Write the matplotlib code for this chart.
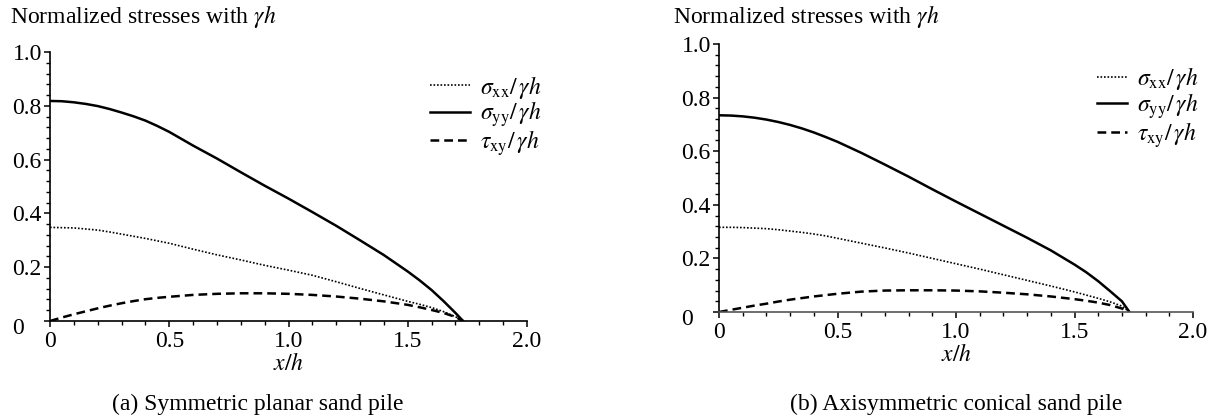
import matplotlib
matplotlib.use("Agg")
import matplotlib.pyplot as plt
from matplotlib.ticker import MultipleLocator, FuncFormatter

plt.rcParams['font.family'] = ['Liberation Serif', 'DejaVu Serif']
plt.rcParams['mathtext.fontset'] = 'stix'

x_h = [0.0, 0.05, 0.1, 0.15, 0.2, 0.25, 0.3, 0.35, 0.4, 0.45, 0.5, 0.6, 0.7,
       0.8, 0.9, 1.0, 1.1, 1.2, 1.3, 1.4, 1.5, 1.55, 1.6, 1.65, 1.7, 1.732]

# (a) symmetric planar sand pile
sxx_a = [0.348, 0.347, 0.346, 0.342, 0.338, 0.331, 0.323, 0.315, 0.307, 0.298,
         0.289, 0.267, 0.246, 0.227, 0.207, 0.189, 0.170, 0.146, 0.121, 0.097,
         0.073, 0.062, 0.050, 0.035, 0.016, 0.0]
syy_a = [0.818, 0.817, 0.813, 0.807, 0.799, 0.788, 0.775, 0.761, 0.745, 0.725,
         0.703, 0.652, 0.604, 0.553, 0.503, 0.455, 0.405, 0.354, 0.300, 0.245,
         0.184, 0.151, 0.115, 0.074, 0.030, 0.0]
txy_a = [0.0, 0.013, 0.025, 0.036, 0.047, 0.057, 0.066, 0.074, 0.081, 0.086,
         0.090, 0.097, 0.101, 0.103, 0.103, 0.101, 0.097, 0.091, 0.083, 0.073,
         0.060, 0.051, 0.041, 0.030, 0.015, 0.0]

# (b) axisymmetric conical sand pile
sxx_b = [0.316, 0.316, 0.315, 0.313, 0.311, 0.307, 0.302, 0.297, 0.291, 0.284,
         0.275, 0.257, 0.239, 0.220, 0.200, 0.180, 0.160, 0.139, 0.118, 0.097,
         0.075, 0.063, 0.051, 0.038, 0.022, 0.0]
syy_b = [0.734, 0.733, 0.730, 0.725, 0.718, 0.709, 0.698, 0.685, 0.670, 0.653,
         0.635, 0.594, 0.550, 0.505, 0.458, 0.412, 0.367, 0.322, 0.277, 0.230,
         0.177, 0.148, 0.115, 0.078, 0.040, 0.0]
txy_b = [0.0, 0.008, 0.016, 0.024, 0.031, 0.039, 0.046, 0.052, 0.058, 0.063,
         0.068, 0.076, 0.080, 0.081, 0.081, 0.080, 0.077, 0.072, 0.066, 0.058,
         0.048, 0.042, 0.035, 0.026, 0.013, 0.0]

labels = [r'$\sigma_{\rm xx}/\,\gamma h$', r'$\sigma_{\rm yy}/\,\gamma h$',
          r'$\tau_{\rm xy}/\,\gamma h$']
captions = ['(a) Symmetric planar sand pile', '(b) Axisymmetric conical sand pile']

fig = plt.figure(figsize=(12.24, 4.19), dpi=100)
W, H = 1224, 419

def px(x0, x1, ytop, ybot):
    return [x0 / W, 1 - ybot / H, (x1 - x0) / W, (ybot - ytop) / H]

ax_a = fig.add_axes(px(50, 527, 52, 321))
ax_b = fig.add_axes(px(719, 1193, 44, 312))

def fmt_x(v, pos):
    if abs(v) < 1e-9:
        return '0'
    return '%.1f' % v

def fmt_y(v, pos):
    # the zero of the y axis is drawn separately, a bit lower
    if abs(v) < 1e-9:
        return ''
    return '%.1f' % v

panels = [(ax_a, sxx_a, syy_a, txy_a, 'black', 1.7),
          (ax_b, sxx_b, syy_b, txy_b, '#555555', 1.3)]
for ax, sxx, syy, txy, spine_col, hlen in panels:
    ax.plot(x_h, sxx, color='black', lw=1.2, linestyle=(0, (1, 1.1)), label=labels[0])
    ax.plot(x_h, syy, color='black', lw=1.8, linestyle='-', label=labels[1])
    ax.plot(x_h, txy, color='black', lw=1.8, linestyle=(0, (3.5, 2)), label=labels[2])

    ax.set_xlim(0, 2.0)
    ax.set_ylim(0, 1.0)
    ax.spines['top'].set_visible(False)
    ax.spines['right'].set_visible(False)
    ax.spines['left'].set_linewidth(1.2)
    ax.spines['bottom'].set_linewidth(1.2)
    ax.spines['bottom'].set_color(spine_col)
    ax.xaxis.set_major_locator(MultipleLocator(0.5))
    ax.xaxis.set_minor_locator(MultipleLocator(0.1))
    ax.yaxis.set_major_locator(MultipleLocator(0.2))
    ax.yaxis.set_minor_locator(MultipleLocator(0.04))
    ax.xaxis.set_major_formatter(FuncFormatter(fmt_x))
    ax.yaxis.set_major_formatter(FuncFormatter(fmt_y))
    ax.tick_params(which='major', direction='out', length=4, width=1.1, labelsize=17)
    ax.tick_params(which='minor', direction='out', length=3, width=1.0)
    ax.tick_params(axis='x', which='major', pad=3)
    ax.tick_params(axis='y', which='major', pad=23)
    plt.setp(ax.get_yticklabels(), ha='left')
    ax.annotate('0', xy=(0, 0), xycoords=('axes fraction', 'data'),
                xytext=(-38, -7), textcoords='offset pixels',
                ha='left', va='center', fontsize=17)
    ax.set_xlabel(r'$x/h$', fontsize=17, labelpad=1)
    ax.legend(loc='upper left', bbox_to_anchor=(0.797, 0.92), frameon=False,
              fontsize=17, handlelength=hlen, handletextpad=0.4, labelspacing=-0.05,
              borderpad=0, borderaxespad=0)

fig.text(10 / W, 1 - 17 / H, r'Normalized stresses with $\gamma h$', fontsize=17,
         va='center', ha='left')
fig.text(673 / W, 1 - 17 / H, r'Normalized stresses with $\gamma h$', fontsize=17,
         va='center', ha='left')
fig.text(258 / W, 1 - 404 / H, captions[0], fontsize=17, va='center', ha='center')
fig.text(956 / W, 1 - 404 / H, captions[1], fontsize=17, va='center', ha='center')

fig.savefig('out.png', dpi=100)
